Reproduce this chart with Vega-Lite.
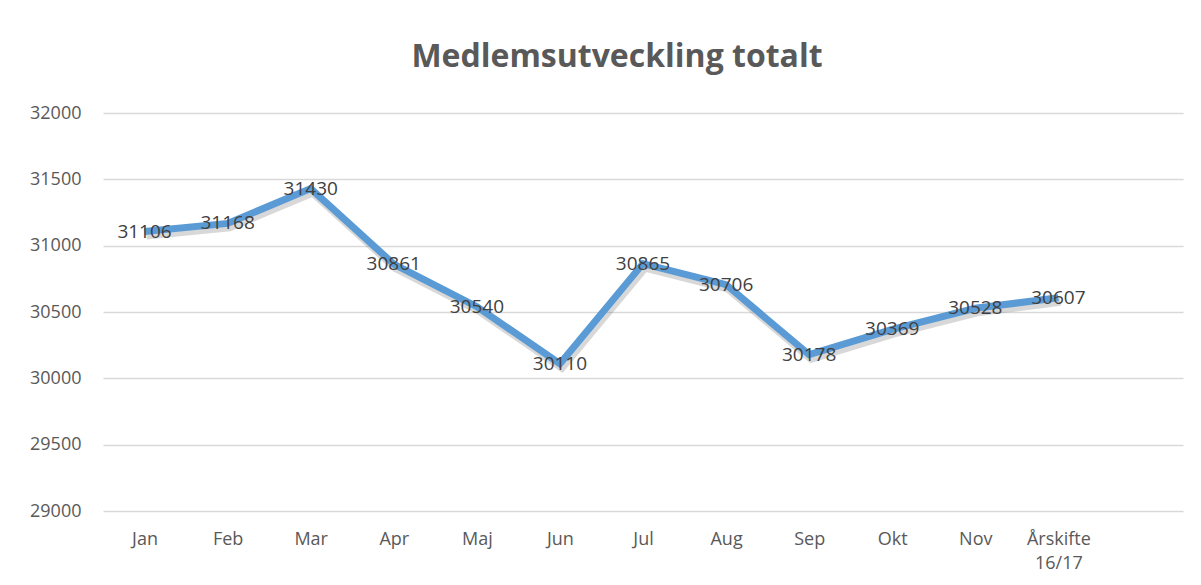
{
  "$schema": "https://vega.github.io/schema/vega-lite/v6.json",
  "autosize": {"type": "none"},
  "width": 1080,
  "height": 398,
  "padding": {"left": 103, "top": 113, "right": 18, "bottom": 74},
  "background": "white",
  "config": {"view": {"stroke": null}, "font": "Open Sans"},
  "title": {
    "text": "Medlemsutveckling totalt",
    "font": "Open Sans",
    "fontSize": 32,
    "fontWeight": "bold",
    "color": "#595959",
    "anchor": "middle",
    "dx": -26,
    "offset": 30
  },
  "data": {
    "values": [
      {"month": "Jan", "members": 31106},
      {"month": "Feb", "members": 31168},
      {"month": "Mar", "members": 31430},
      {"month": "Apr", "members": 30861},
      {"month": "Maj", "members": 30540},
      {"month": "Jun", "members": 30110},
      {"month": "Jul", "members": 30865},
      {"month": "Aug", "members": 30706},
      {"month": "Sep", "members": 30178},
      {"month": "Okt", "members": 30369},
      {"month": "Nov", "members": 30528},
      {"month": "Årskifte 16/17", "members": 30607}
    ]
  },
  "encoding": {
    "x": {
      "field": "month",
      "type": "nominal",
      "sort": null,
      "scale": {
        "type": "point",
        "padding": 0.5,
        "domain": ["Jan", "Feb", "Mar", "Apr", "Maj", "Jun", "Jul", "Aug", "Sep", "Okt", "Nov", "Årskifte 16/17", " "]
      },
      "axis": {
        "title": null,
        "labelAngle": 0,
        "domain": false,
        "ticks": false,
        "grid": false,
        "labelFont": "Open Sans",
        "labelFontSize": 18,
        "labelColor": "#595959",
        "labelPadding": 19,
        "labelLineHeight": 24,
        "labelExpr": "datum.value == 'Årskifte 16/17' ? ['Årskifte', '16/17'] : datum.value"
      }
    },
    "y": {
      "field": "members",
      "type": "quantitative",
      "scale": {"domain": [29000, 32000], "nice": false, "zero": false},
      "axis": {
        "title": null,
        "values": [29000, 29500, 30000, 30500, 31000, 31500, 32000],
        "format": "d",
        "domain": false,
        "ticks": false,
        "grid": true,
        "gridColor": "#D9D9D9",
        "gridWidth": 1.5,
        "labelFont": "Open Sans",
        "labelFontSize": 18,
        "labelColor": "#595959",
        "labelPadding": 22
      }
    }
  },
  "layer": [
    {
      "mark": {"type": "line", "color": "#7f7f7f", "strokeWidth": 8, "opacity": 0.3, "xOffset": 2, "yOffset": 4, "strokeJoin": "miter"}
    },
    {
      "mark": {"type": "line", "color": "#5B9BD5", "strokeWidth": 7, "strokeJoin": "miter"}
    },
    {
      "mark": {"type": "text", "font": "Open Sans", "fontSize": 19, "color": "#404040", "align": "center", "baseline": "middle"},
      "encoding": {"text": {"field": "members", "type": "quantitative", "format": "d"}}
    }
  ]
}
